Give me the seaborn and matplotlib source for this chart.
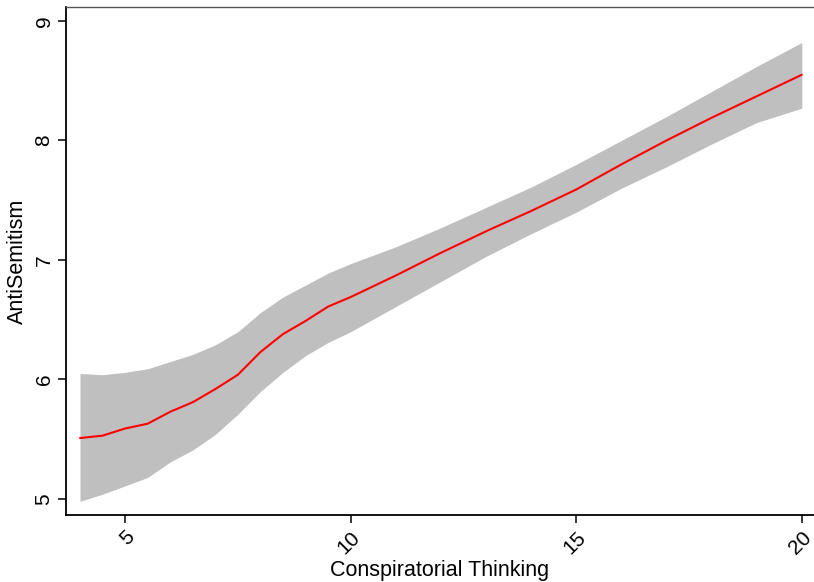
import numpy as np
import pandas as pd
import seaborn as sns
from matplotlib import pyplot as plt

# values
thinking = [4, 4.5, 5, 5.5, 6, 6.5, 7, 7.5, 8, 8.5, 9, 9.5, 10, 11, 12, 13, 14, 15, 16, 17, 18, 19, 20]
fit = [5.51, 5.53, 5.59, 5.63, 5.73, 5.81, 5.92, 6.04, 6.23, 6.38, 6.49, 6.61, 6.69,
       6.87, 7.06, 7.24, 7.41, 7.59, 7.80, 8.00, 8.19, 8.37, 8.55]
upper = [6.05, 6.04, 6.06, 6.09, 6.15, 6.21, 6.29, 6.40, 6.56, 6.69, 6.79, 6.89, 6.97,
         7.11, 7.27, 7.44, 7.61, 7.80, 8.00, 8.20, 8.41, 8.62, 8.82]
lower = [4.98, 5.04, 5.11, 5.18, 5.31, 5.41, 5.54, 5.71, 5.90, 6.06, 6.20, 6.31, 6.40,
         6.61, 6.82, 7.03, 7.22, 7.40, 7.60, 7.78, 7.97, 8.15, 8.27]
xticks = [5, 10, 15, 20]
yticks = [5, 6, 7, 8, 9]

df = pd.DataFrame({'thinking': thinking, 'fit': fit, 'upper': upper, 'lower': lower})

sns.set_style('white')
plt.rcParams['font.family'] = ['Liberation Sans', 'DejaVu Sans']
plt.rcParams['text.color'] = 'black'
plt.rcParams['axes.labelcolor'] = 'black'
plt.rcParams['xtick.color'] = 'black'
plt.rcParams['ytick.color'] = 'black'

fig = plt.figure(figsize=(8.14, 5.82), dpi=100)
ax = fig.add_axes([0.0811, 0.1151, 0.9189, 0.8729])

# confidence band then the fitted line
ax.fill_between(df.thinking, df.lower, df.upper, color='#bfbfbf', linewidth=0)
sns.lineplot(data=df, x='thinking', y='fit', color='red', linewidth=1.5, ax=ax)

ax.set_xlim(3.69, 20.27)
ax.set_ylim(4.866, 9.117)
ax.set_xticks(xticks)
ax.set_yticks(yticks)
ax.set_xticklabels([str(t) for t in xticks], rotation=45, fontsize=15,
                   ha='right', rotation_mode='anchor')
ax.set_yticklabels([str(t) for t in yticks], rotation=90, fontsize=15, va='center')
ax.tick_params(axis='both', direction='out', length=6, width=1.1, pad=3,
               bottom=True, left=True)

for side in ['left', 'bottom']:
    ax.spines[side].set_color('black')
    ax.spines[side].set_linewidth(1.3)
ax.spines['top'].set_color('#555555')
ax.spines['top'].set_linewidth(1.0)
ax.spines['right'].set_visible(False)

ax.set_xlabel('Conspiratorial Thinking', fontsize=15.5, labelpad=2)
ax.set_ylabel('AntiSemitism', fontsize=15.5, labelpad=5)

fig.savefig('out.png', dpi=100)
